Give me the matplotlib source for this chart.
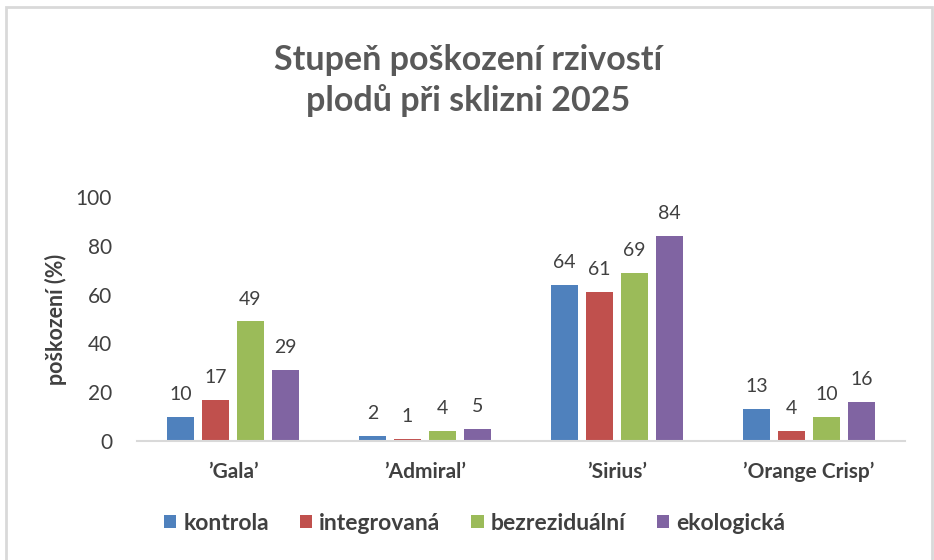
import numpy as np
import matplotlib.pyplot as plt
from matplotlib.patches import Rectangle

plt.rcParams['font.family'] = ['Lato', 'DejaVu Sans']

odrudy = ["\u2019Gala\u2019", "\u2019Admiral\u2019", "\u2019Sirius\u2019", "\u2019Orange Crisp\u2019"]
varianty = ["kontrola", "integrovaná", "bezreziduální", "ekologická"]
kontrola = [10, 2, 64, 13]
integrovana = [17, 1, 61, 4]
bezrezidualni = [49, 4, 69, 10]
ekologicka = [29, 5, 84, 16]
barvy = ["#4F81BD", "#C0504D", "#9BBB59", "#8064A2"]

data = [kontrola, integrovana, bezrezidualni, ekologicka]
text_col = "#404040"

fig = plt.figure(figsize=(9.34, 5.6), dpi=100)
ax = fig.add_axes([0.1467, 0.2125, 0.8223, 0.4355])

# chart border like in Excel
fig.patches.append(Rectangle((6 / 934, -0.05), 926 / 934, 1.05 - 7 / 560,
                             transform=fig.transFigure, fill=False,
                             edgecolor="#D9D9D9", linewidth=2))

x = np.arange(len(odrudy))
w = 0.14
pitch = 0.182
for i, (vals, name, col) in enumerate(zip(data, varianty, barvy)):
    pos = x + (i - 1.5) * pitch
    bars = ax.bar(pos, vals, w, color=col, label=name)
    for b, v in zip(bars, vals):
        ax.annotate(f"{v:.0f}", (b.get_x() + b.get_width() / 2, v),
                    xytext=(0, 10), textcoords="offset points",
                    ha="center", va="bottom", fontsize=14, color=text_col)

ax.set_xlim(-0.5, 3.5)
ax.set_ylim(0, 100)
ax.set_yticks(range(0, 101, 20))
ax.set_xticks(x)
ax.set_xticklabels(odrudy, fontsize=15, fontweight="bold", color=text_col)
ax.tick_params(axis="y", length=0, pad=18, labelsize=15, labelcolor=text_col)
ax.tick_params(axis="x", length=0, pad=15)
for s in ["top", "right", "left"]:
    ax.spines[s].set_visible(False)
ax.spines["bottom"].set_color("#D9D9D9")
ax.spines["bottom"].set_linewidth(1.5)

ax.set_ylabel("poškození (%)", fontsize=15.5, fontweight="bold", color=text_col)
ax.yaxis.set_label_coords(-0.091, 0.5)

fig.text(0.501, 0.857, "Stupeň poškození rzivostí\nplodů při sklizni 2025",
         ha="center", va="center", fontsize=24.5, fontweight="bold",
         color="#595959", linespacing=1.3)

leg = fig.legend(loc="center", bbox_to_anchor=(0.508, 0.066), ncol=4, frameon=False,
                 handlelength=0.55, handleheight=0.55, handletextpad=0.3,
                 columnspacing=1.35, prop={"size": 16.5, "weight": "bold"})
for t in leg.get_texts():
    t.set_color(text_col)

fig.savefig("out.png", dpi=100)
